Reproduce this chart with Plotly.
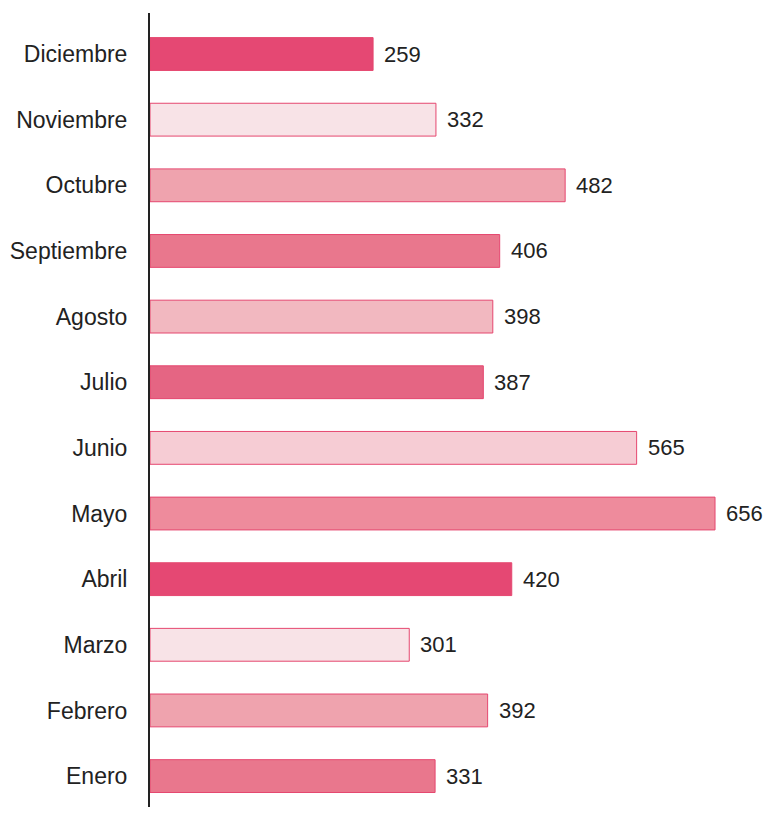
import plotly.graph_objects as go

months = ['Enero', 'Febrero', 'Marzo', 'Abril', 'Mayo', 'Junio',
          'Julio', 'Agosto', 'Septiembre', 'Octubre', 'Noviembre', 'Diciembre']
values = [331, 392, 301, 420, 656, 565, 387, 398, 406, 482, 332, 259]
colors = ['#e9778d', '#efa3ae', '#f8e3e7', '#e54873', '#ee8b9c', '#f6ccd4',
          '#e56583', '#f2b8c0', '#e9778d', '#efa3ae', '#f8e3e7', '#e54873']

FONT = 'Liberation Sans, Arial'

fig = go.Figure()
fig.add_trace(go.Bar(
    x=values,
    y=months,
    orientation='h',
    width=0.5,
    marker=dict(color=colors, line=dict(color='#e5476f', width=1)),
    hoverinfo='x+y',
))

# value labels just past the end of each bar
for m, v in zip(months, values):
    fig.add_annotation(
        x=v, y=m, text=str(v), showarrow=False,
        xanchor='left', xshift=9,
        font=dict(family=FONT, size=22, color='#222222'),
    )

fig.update_layout(
    width=763, height=799,
    margin=dict(l=142, r=0, t=5, b=0),
    plot_bgcolor='white', paper_bgcolor='white',
    showlegend=False,
    font=dict(family=FONT, size=23, color='#222222'),
    xaxis=dict(range=[0, 721], visible=False, showgrid=False, zeroline=False),
    yaxis=dict(
        range=[-0.471, 11.625],
        showline=True, linecolor='#222222', linewidth=2,
        showgrid=False, zeroline=False,
        ticks='', ticklabelstandoff=16,
        categoryorder='array', categoryarray=months,
    ),
)

fig.write_html("out.html")
